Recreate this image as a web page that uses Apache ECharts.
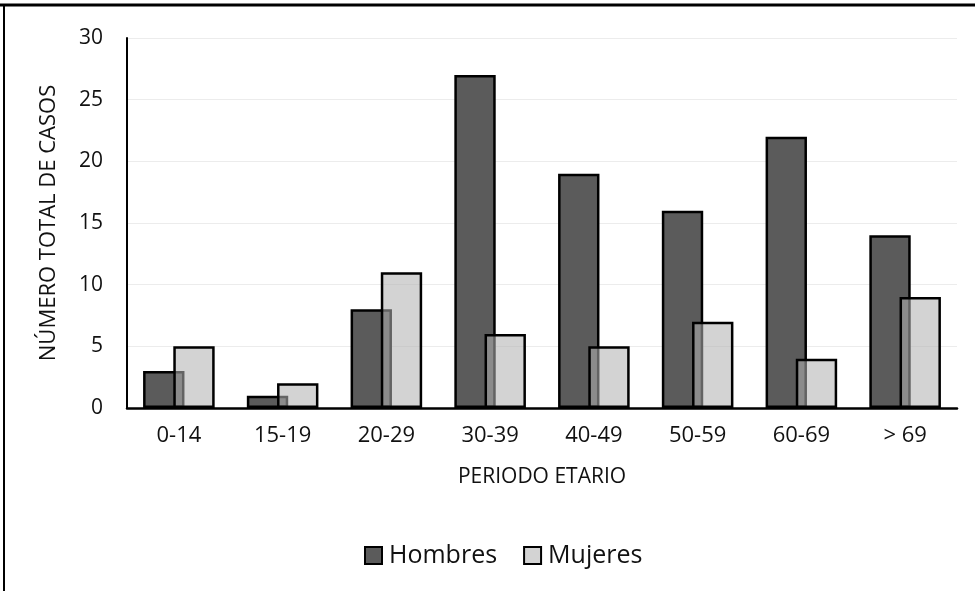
<!DOCTYPE html>
<html><head><meta charset="utf-8">
<script src="https://cdn.jsdelivr.net/npm/echarts@6/dist/echarts.min.js"></script>
<style>html,body{margin:0;padding:0;background:#fff}#c{width:975px;height:591px}</style>
</head><body><div id="c"></div>
<script>
const categories = ['0-14','15-19','20-29','30-39','40-49','50-59','60-69','> 69'];
const hombres = [3,1,8,27,19,16,22,14];
const mujeres = [5,2,11,6,5,7,4,9];
const yTicks = [0,5,10,15,20,25,30];

const FONT = '"Open Sans", sans-serif';
const chart = echarts.init(document.getElementById('c'), null, {renderer:'canvas'});
chart.setOption({
  animation:false,
  backgroundColor:'#fff',
  textStyle:{fontFamily:FONT},
  grid:{left:127,right:18,top:38,bottom:183,containLabel:false},
  legend:{
    data:['Hombres','Mujeres'],
    left:359, top:538,
    itemWidth:17, itemHeight:17, itemGap:26,
    textStyle:{fontSize:25,color:'#111',fontFamily:FONT,padding:[0,0,0,2]},
    icon:'rect'
  },
  xAxis:{
    type:'category', data:categories,
    axisLine:{lineStyle:{color:'#000',width:2.5}},
    axisTick:{show:false},
    axisLabel:{fontSize:22,color:'#111',margin:17,fontFamily:FONT},
    name:'PERIODO ETARIO', nameLocation:'middle', nameGap:59,
    nameTextStyle:{fontSize:21,color:'#111',fontFamily:FONT}
  },
  yAxis:{
    type:'value', min:0, max:30, interval:5,
    axisLine:{show:true,lineStyle:{color:'#000',width:2}},
    axisTick:{show:false},
    splitLine:{lineStyle:{color:'#ececec',width:1}},
    axisLabel:{fontSize:21,color:'#111',margin:24,fontFamily:FONT,
      formatter:v=>yTicks.includes(v)?String(v):''},
    name:'NÚMERO TOTAL DE CASOS', nameLocation:'middle', nameGap:67,
    nameTextStyle:{fontSize:22,color:'#111',fontFamily:FONT}
  },
  series:[
    {name:'Hombres', type:'bar', data:hombres,
     barGap:'-27%', barCategoryGap:'31%',
     itemStyle:{color:'#5b5b5b',borderColor:'#000',borderWidth:2.5}},
    {name:'Mujeres', type:'bar', data:mujeres,
     itemStyle:{color:'rgba(176,176,176,0.56)',borderColor:'#000',borderWidth:2.5}}
  ],
  graphic:[
    {type:'line',shape:{x1:0,y1:5,x2:975,y2:5},style:{stroke:'#000',lineWidth:3}},
    {type:'line',shape:{x1:4,y1:4,x2:4,y2:591},style:{stroke:'#000',lineWidth:2}}
  ]
});
</script></body></html>
